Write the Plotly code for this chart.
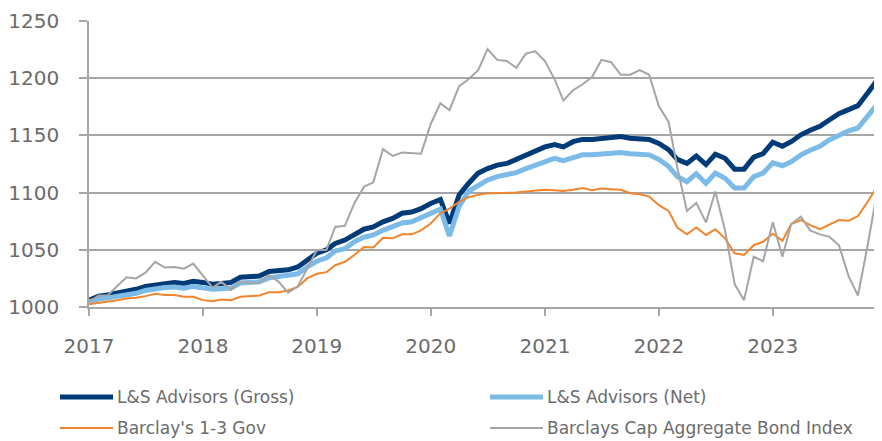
import pandas as pd
import plotly.graph_objects as go

# ---- data (monthly, Jan 2017 .. Dec 2023) ----
start_month = "2017-01-01"
n_months = 84
year_ticks = ["2017", "2018", "2019", "2020", "2021", "2022", "2023"]
y_ticks = [1000, 1050, 1100, 1150, 1200, 1250]

names = ["L&S Advisors (Gross)", "L&S Advisors (Net)", "Barclay's 1-3 Gov",
         "Barclays Cap Aggregate Bond Index"]

gross = [1006, 1009.5, 1010.5, 1012, 1014.5, 1015.5, 1018, 1019.5, 1020.5, 1021.5, 1020.5, 1022.5,
         1021.5, 1020, 1020.5, 1021.5, 1026, 1026, 1027, 1031, 1032, 1032.5, 1035, 1041,
         1047, 1050, 1055.5, 1058.5, 1063.5, 1068, 1070, 1074.5, 1077.5, 1082, 1083, 1086,
         1090.5, 1094, 1073, 1098, 1108, 1117, 1121, 1124, 1125.5, 1129, 1133, 1137,
         1140, 1142, 1140, 1144.5, 1146.5, 1146.5, 1147.5, 1148.5, 1149, 1147.5, 1146.5, 1146.5,
         1143, 1137.5, 1129, 1125.5, 1132, 1124.5, 1133.5, 1130, 1120.5, 1120.5, 1131, 1134,
         1144, 1140.5, 1144.5, 1150.5, 1154.5, 1158, 1163.5, 1169, 1172.5, 1176, 1187, 1198]

net = [1004.5, 1007, 1008, 1009, 1011, 1012, 1014.5, 1016, 1017, 1017.5, 1016.5, 1018,
       1017, 1015.5, 1016, 1016.5, 1021, 1021, 1022, 1025.5, 1026.5, 1027, 1029, 1035,
       1040, 1043, 1049, 1051, 1057, 1061, 1063, 1067, 1070, 1073.5, 1074.5, 1078,
       1082, 1085.5, 1062, 1088, 1101, 1106.5, 1111, 1114, 1115.5, 1117.5, 1121, 1124,
       1128, 1130, 1128, 1131, 1133, 1133, 1134, 1134.5, 1135, 1134, 1133, 1133,
       1129, 1123, 1114, 1109.5, 1116.5, 1108, 1117, 1112.5, 1104, 1104, 1114, 1117,
       1126, 1123.5, 1127, 1133, 1137, 1140.5, 1146, 1150.5, 1154, 1156.5, 1167, 1177]

gov13 = [1002.5, 1003.5, 1004.5, 1006, 1007.5, 1008, 1009.5, 1011.5, 1010.5, 1010.5, 1009, 1009,
         1006, 1005, 1006.5, 1006, 1009, 1009.5, 1010, 1013, 1013, 1014.5, 1017.5, 1025,
         1029, 1030.5, 1036.5, 1039.5, 1045.5, 1052.5, 1052, 1060.5, 1060, 1063.5, 1063.5, 1067,
         1073, 1082, 1086, 1092, 1096, 1098, 1099.5, 1099.5, 1099.5, 1100, 1101, 1102,
         1102.5, 1102, 1101.5, 1102.5, 1104, 1102, 1103.5, 1103, 1102.5, 1099.5, 1098.5, 1096.5,
         1089, 1084, 1069.5, 1063.5, 1069.5, 1063, 1068, 1060, 1047, 1045.5, 1054, 1057,
         1064, 1058, 1072.5, 1076, 1071.5, 1068, 1072, 1076, 1075.5, 1079.5, 1092, 1105]

agg = [1004.5, 1010, 1010, 1018, 1026, 1025, 1030, 1039.5, 1034.5, 1035, 1033.5, 1038,
       1028, 1017, 1022, 1015, 1022, 1021, 1021, 1028, 1022, 1012.5, 1018, 1034,
       1049.5, 1050, 1070, 1071, 1090.5, 1105, 1109, 1138, 1132, 1135, 1134.5, 1134,
       1160, 1178, 1172, 1193, 1199, 1207, 1225.5, 1216, 1215, 1209, 1221.5, 1223.5,
       1215, 1199, 1180.5, 1189.5, 1194.5, 1201, 1216, 1214, 1203, 1203, 1207, 1203,
       1175.5, 1162, 1122, 1084, 1091, 1074, 1101, 1067, 1020, 1006, 1044, 1040,
       1074, 1044, 1072.5, 1079, 1067, 1063.5, 1061.5, 1054, 1027, 1010, 1054, 1100]

months = pd.date_range(start_month, periods=n_months, freq="MS")

colors = ["#003B78", "#7CBBE7", "#F0852D", "#A5A5A5"]
widths = [5, 5, 2, 2]
series = [gross, net, gov13, agg]

FONT = "DejaVu Sans"
TXT = "#6B6B6B"
GRID = "#A6A6A6"

# page body has an 8px margin: figure is sized/positioned to compensate
OFF = 8
FW, FH = 882 - OFF, 441 - OFF
L, R, T, B = 89 - OFF, 5, 21 - OFF, 441 - 307

fig = go.Figure()
for nm, vals, c, w in zip(names, series, colors, widths):
    fig.add_trace(go.Scatter(x=months, y=vals, name=nm, mode="lines",
                             line=dict(color=c, width=w), showlegend=False,
                             cliponaxis=False))

fig.update_layout(
    template="none",
    width=FW, height=FH,
    margin=dict(l=L, r=R, t=T, b=B, pad=0, autoexpand=False),
    paper_bgcolor="white", plot_bgcolor="white",
    font=dict(family=FONT, color=TXT),
    showlegend=False,
)
fig.update_xaxes(
    automargin=False,
    range=[months[0], months[-1]],
    tickvals=[pd.Timestamp(y + "-01-01") for y in year_ticks],
    ticktext=year_ticks,
    showgrid=False, showline=True, linecolor=GRID, linewidth=1.5,
    ticks="outside", ticklen=7, tickcolor=GRID, tickwidth=1.5,
    tickfont=dict(size=20, family=FONT, color=TXT),
    ticklabelstandoff=13, zeroline=False,
)
fig.update_yaxes(
    automargin=False,
    range=[1000, 1250], tickvals=y_ticks,
    showgrid=True, gridcolor=GRID, gridwidth=1.5,
    showline=True, linecolor=GRID, linewidth=1.5,
    ticks="outside", ticklen=8, tickcolor=GRID, tickwidth=1.5,
    tickfont=dict(size=20, family=FONT, color=TXT),
    ticklabelstandoff=16, zeroline=False,
)

# legend drawn as paper-anchored shapes + text (page pixel coords)
pw = FW - L - R
ph = FH - T - B
def px_x(x):
    return (x - OFF - L) / pw
def px_y(y):
    return (FH - B - (y - OFF)) / ph

leg_pos = [(60, 397), (490, 397), (60, 428), (490, 428)]
for (lx, ly), nm, c, w in zip(leg_pos, names, colors, widths):
    fig.add_shape(type="line", xref="paper", yref="paper",
                  x0=px_x(lx), x1=px_x(lx + 53), y0=px_y(ly), y1=px_y(ly),
                  line=dict(color=c, width=w))
    fig.add_annotation(xref="paper", yref="paper", x=px_x(lx + 55), y=px_y(ly),
                       text=nm, showarrow=False, xanchor="left", yanchor="middle",
                       font=dict(size=17, family=FONT, color=TXT))

# hide page scrollbars so the figure's right edge is not covered
fig.write_html("out.html",
               post_script="document.documentElement.style.overflow='hidden';"
                           "document.body.style.overflow='hidden';")
